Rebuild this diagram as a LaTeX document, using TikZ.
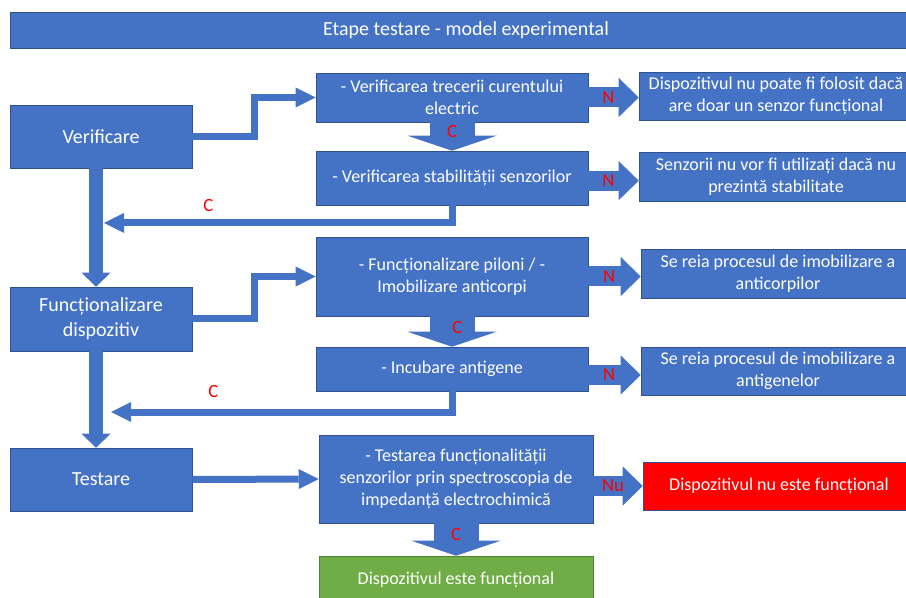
\documentclass[tikz,border=0pt]{standalone}
\usepackage{fontspec}
\setmainfont{Carlito}
\usepackage{tikz}
\usetikzlibrary{positioning}
\usetikzlibrary{arrows.meta}
\definecolor{stepblue}{HTML}{4472C4}
\definecolor{stepline}{HTML}{2F528F}
\definecolor{okgreen}{HTML}{70AD47}
\definecolor{failred}{HTML}{FF0000}
\tikzset{
    mynode/.style = {rectangle, draw=stepline, line width=0.4pt, fill=stepblue, text=white, align=center, inner sep=0pt, minimum width=204pt, font=\fontsize{13.5}{16.5}\selectfont},
    mynodel/.style = {mynode, minimum width=136.5pt, font=\fontsize{15}{18.75}\selectfont},
    mynodew/.style = {mynode, minimum width=205.5pt},
    mynoder/.style = {mynodew, fill=failred},
    mynodeg/.style = {mynodew, fill=okgreen, draw=okgreen!75!black},
    lbl/.style = {text=failred, inner sep=0pt, font=\fontsize{14}{14}\selectfont},
    edgen/.style = {draw=stepblue, line width=5.25pt, -{Triangle[length=15pt,width=15pt,line width=0pt]}},
    edgev/.style = {draw=stepblue, line width=10.5pt, -{Triangle[length=10.5pt,width=21.75pt,line width=0pt]}},
    edgef/.style = {draw=stepblue, line width=15pt, -{Triangle[length=15pt,width=29.25pt,line width=0pt]}}, % N / Nu
    edged/.style = {draw=stepblue, line width=33.75pt, -{Triangle[length=11.25pt,width=66.75pt,line width=0pt]}}, % C
}

\begin{document}
\begin{tikzpicture}[x=0.75pt, y=-0.75pt]
  \useasboundingbox (0,0) rectangle (906,598);

  \node[mynode, minimum width=684pt, minimum height=27pt, font=\fontsize{15}{18}\selectfont] (title) at (466,30) {Etape testare - model experimental};

  % stages
  \node[mynodel, minimum height=47.25pt] (verif) at (101,136.5) {Verificare};
  \node[mynodel, minimum height=48pt] (funct) at (101,319) {Funcționalizare\\dispozitiv};
  \node[mynodel, minimum height=47.25pt] (test) at (101,479.5) {Testare};

  % checks
  \node[mynode, minimum height=36.75pt] (v1) at (452,97.5) {- Verificarea trecerii curentului\\electric};
  \node[mynode, minimum height=40.5pt] (v2) at (452,178) {- Verificarea stabilității senzorilor};
  \node[mynode, minimum height=59.25pt] (v3) at (452,276.5) {- Funcționalizare piloni / -\\Imobilizare anticorpi};
  \node[mynode, minimum height=33pt] (v4) at (452,369) {- Incubare antigene};
  \node[mynodew, minimum height=66pt] (v5) at (456,479) {- Testarea funcționalității\\senzorilor prin spectroscopia de\\impedanță electrochimică};
  \node[mynodeg, minimum height=36pt] (ok) at (456,580) {Dispozitivul este funcțional};

  % outcomes
  \node[mynodew, minimum height=36pt] (r1) at (776,96) {Dispozitivul nu poate fi folosit dacă\\are doar un senzor funcțional};
  \node[mynodew, minimum height=36.75pt] (r2) at (776,176.5) {Senzorii nu vor fi utilizați dacă nu\\prezintă stabilitate};
  \node[mynodew, minimum height=36.75pt] (r3) at (778,273.5) {Se reia procesul de imobilizare a\\anticorpilor};
  \node[mynodew, minimum height=36pt] (r4) at (778,371) {Se reia procesul de imobilizare a\\antigenelor};
  \node[mynoder, minimum height=36pt, minimum width=204pt] (fail) at (779,486) {Dispozitivul nu este funcțional};

  \coordinate (back1) at (104,223);
  \coordinate (back2) at (111,412);

  % flow
  \draw[edgen] (verif.east) -- ++(62,0) |- (v1.west);
  \draw[edgen] (funct.east) -- ++(62,0) |- (v3.west);
  \draw[edgen] (test.east) -- (v5.west);
  \draw[edgev] ([xshift=-3.75pt]verif.south) -- ([xshift=-3.75pt]funct.north);
  \draw[edgev] ([xshift=-3.75pt]funct.south) -- ([xshift=-3.75pt]test.north);
  \draw[edgen] (v2.south) |- node[lbl, pos=0.85, above=6pt] {C} (back1);
  \draw[edgen] (v4.south) |- node[lbl, pos=0.85, above=8pt] {C} (back2);

  \draw[edged] (v1.south) -- node[lbl, pos=0.34] {C} (v2.north);
  \draw[edged] (v3.south) -- node[lbl, pos=0.38, xshift=4pt] {C} (v4.north);
  \draw[edged] (v5.south) -- node[lbl, pos=0.36] {C} (ok.north);

  \draw[edgef] (v1.east) -- node[lbl, pos=0.4] {N} (v1.east -| r1.west);
  \draw[edgef] ([yshift=-2pt]v2.east) -- node[lbl, pos=0.4] {N} ([yshift=-2pt]v2.east -| r2.west);
  \draw[edgef] (v3.east) -- node[lbl, pos=0.4] {N} (v3.east -| r3.west);
  \draw[edgef] ([yshift=-4.5pt]v4.east) -- node[lbl, pos=0.4] {N} ([yshift=-4.5pt]v4.east -| r4.west);
  \draw[edgef] (v5.east |- fail.west) -- node[lbl, pos=0.4] {Nu} (fail.west);
\end{tikzpicture}
\end{document}
